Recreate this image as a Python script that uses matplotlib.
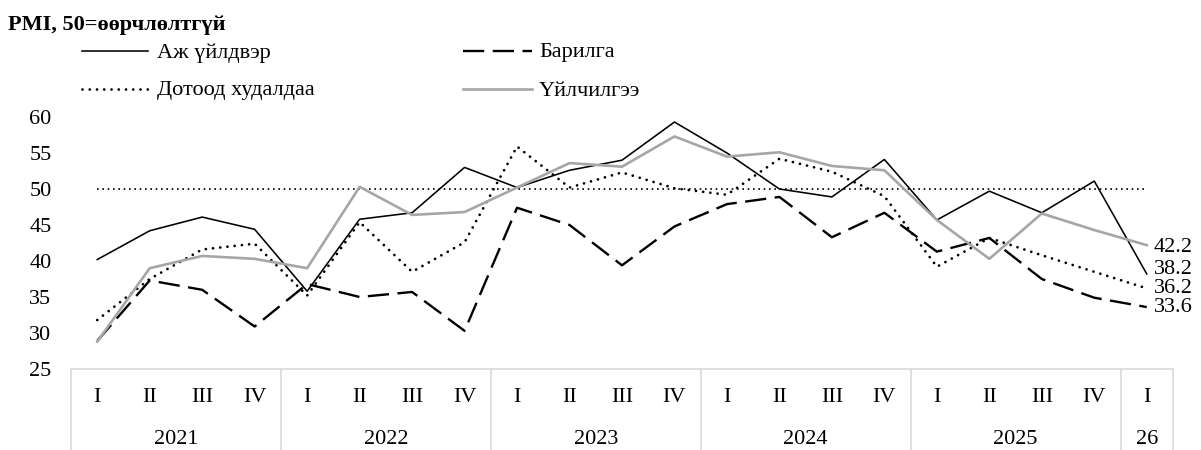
import matplotlib
matplotlib.use("Agg")
import matplotlib.pyplot as plt
from matplotlib.lines import Line2D
from matplotlib.transforms import blended_transform_factory

plt.rcParams['font.family'] = ['Liberation Serif', 'DejaVu Serif']

quarters = ["I", "II", "III", "IV"] * 5 + ["I"]
years = ["2021", "2022", "2023", "2024", "2025", "26"]
year_sizes = [4, 4, 4, 4, 4, 1]

manufacturing = [40.2, 44.2, 46.1, 44.4, 35.8, 45.8, 46.7, 53.0, 50.2, 52.6, 54.0,
                 59.3, 55.0, 50.0, 48.9, 54.1, 45.7, 49.7, 46.7, 51.1, 38.2]
construction = [28.9, 37.3, 36.0, 30.9, 36.8, 35.0, 35.7, 30.3, 47.4, 45.0, 39.4,
                44.8, 47.9, 48.9, 43.3, 46.7, 41.3, 43.2, 37.5, 34.9, 33.6]
trade = [31.8, 37.5, 41.6, 42.4, 35.2, 45.4, 38.5, 42.6, 55.9, 50.2, 52.3,
         50.1, 49.2, 54.2, 52.4, 49.0, 39.2, 43.2, 40.8, 38.5, 36.2]
services = [28.8, 39.0, 40.7, 40.3, 39.0, 50.3, 46.4, 46.8, 50.2, 53.6, 53.1,
            57.3, 54.5, 55.1, 53.2, 52.6, 45.7, 40.3, 46.6, 44.3, 42.2]
neutral = [50] * len(quarters)

names = ["Аж үйлдвэр", "Барилга", "Дотоод худалдаа", "Үйлчилгээ"]
title = "PMI, 50=өөрчлөлтгүй"

W, H = 1201, 450
fig = plt.figure(figsize=(W / 100, H / 100), dpi=100)
ax_left, ax_right, ax_top, ax_bot = 71, 1173, 117, 369
ax = fig.add_axes([ax_left / W, 1 - ax_bot / H, (ax_right - ax_left) / W, (ax_bot - ax_top) / H])

x = list(range(len(quarters)))
FS = 16
gray = "#a6a6a6"

styles = [
    dict(color="black", lw=1.15, linestyle="-"),
    dict(color="black", lw=1.7, linestyle=(0, (9, 3.6))),
    dict(color="black", lw=2.0, linestyle=(0, (0.01, 2.6)), dash_capstyle="round"),
    dict(color=gray, lw=1.9, linestyle="-"),
]
series = [manufacturing, construction, trade, services]

ax.plot(x, neutral, color="black", lw=1.2, linestyle=(0, (1, 2.2)))
for s, st in zip(series, styles):
    ax.plot(x, s, **st)

ax.set_xlim(-0.5, len(quarters) - 0.5)
ax.set_ylim(25, 60)
ax.set_yticks([25, 30, 35, 40, 45, 50, 55, 60])
ax.tick_params(axis="y", length=0, labelsize=FS, pad=14)
ax.set_xticks([])
for sp in ["left", "right", "top"]:
    ax.spines[sp].set_visible(False)
ax.spines["bottom"].set_color("#d9d9d9")
ax.spines["bottom"].set_linewidth(1.2)

# end labels
label_dy = {0: 3, 1: 0, 2: 0, 3: -1.5}
for i, s in enumerate(series):
    ax.annotate(f"{s[-1]:.1f}", xy=(x[-1], s[-1]), xytext=(5, label_dy[i]),
                textcoords="offset points", ha="left", va="center", fontsize=FS,
                annotation_clip=False)

# category axis
trans = blended_transform_factory(ax.transData, ax.transAxes)
axh = ax_bot - ax_top
q_y = -(397 - ax_bot) / axh
y_y = -(440 - ax_bot) / axh
bottom = -(H - ax_bot) / axh
for i, q in enumerate(quarters):
    ax.text(i, q_y, q, transform=trans, ha="center", va="center", fontsize=FS)
start = 0
bounds = [-0.5]
for yname, n in zip(years, year_sizes):
    ax.text(start + (n - 1) / 2, y_y, yname, transform=trans, ha="center", va="center", fontsize=FS)
    start += n
    bounds.append(start - 0.5)
for b in bounds:
    ax.add_line(Line2D([b, b], [0, bottom], transform=trans, color="#d9d9d9", lw=1.2, clip_on=False))

# title
fig.text(8 / W, 1 - 25 / H, title, fontsize=FS, fontweight="bold", ha="left", va="center")

# legend (manual)
leg_pos = [(82, 148, 157, 51), (463, 532, 539, 51), (82, 148, 157, 89), (463, 532, 539, 89)]
for (x0, x1, tx, yy), st, nm in zip(leg_pos, styles, names):
    fig.add_artist(Line2D([x0 / W, x1 / W], [1 - yy / H, 1 - yy / H], transform=fig.transFigure, **st))
    fig.text(tx / W, 1 - (yy + 2) / H, nm, fontsize=FS, ha="left", va="center")

fig.savefig("out.png", dpi=100)
